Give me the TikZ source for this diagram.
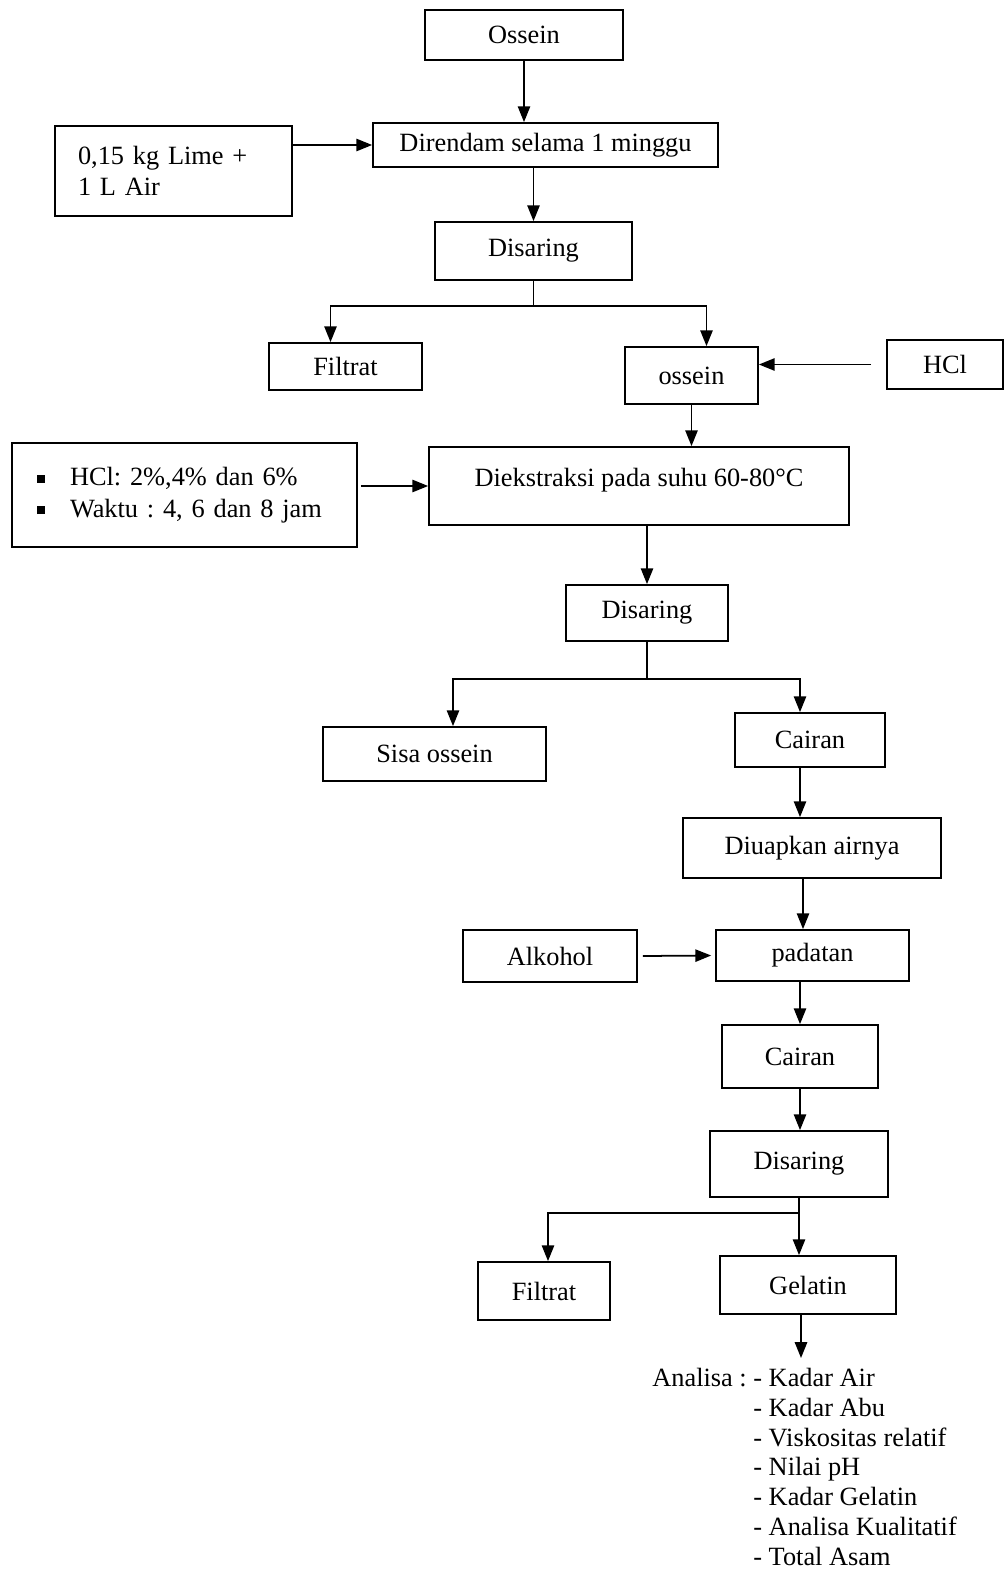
\documentclass[tikz,border=0pt]{standalone}
\usepackage{fontspec}
\setmainfont{Liberation Serif}
\usepackage{tikz}
\usetikzlibrary{positioning,arrows.meta}
\frenchspacing

\newcommand{\sqbullet}{\makebox[0.66cm][l]{\rule[0.25ex]{0.3em}{0.3em}}}

\begin{document}
\begin{tikzpicture}[
    x=0.02cm, y=-0.02cm,
    box/.style={rectangle, draw, line width=1pt, inner sep=0pt,
        font=\fontsize{15}{18}\selectfont, align=center},
    arr/.style={-{Triangle[length=9pt,width=7pt]}, line width=1pt}
]
\useasboundingbox (0,0) rectangle (1007,1571);
\fill[white] (0,0) rectangle (1007,1571);

% boxes
\node[box, minimum width=3.96cm, minimum height=1cm] (ossein1) at (524,35) {Ossein};
\node[box, minimum width=6.9cm, minimum height=0.88cm] (direndam) at (545.5,145) {Direndam selama 1 minggu};
\node[box, minimum width=4.74cm, minimum height=1.8cm, inner xsep=0.46cm,
    text width=3.82cm, align=left] (lime) at (173.5,171) {0,15 kg Lime +\\1 L Air};
\node[box, minimum width=3.94cm, minimum height=1.16cm] (disaring1) at (533.5,251) {Disaring};
\node[box, minimum width=3.06cm, minimum height=0.94cm] (filtrat1) at (345.5,366.5) {Filtrat};
\node[box, minimum width=2.66cm, minimum height=1.14cm] (ossein2) at (691.5,375.5) {ossein};
\node[box, minimum width=2.32cm, minimum height=0.98cm] (hcl) at (945,364.5) {HCl};
\node[box, minimum width=6.9cm, minimum height=2.08cm, inner xsep=0.5cm,
    text width=5.9cm, align=left] (kondisi) at (184.5,495)
    {\sqbullet HCl: 2\%,4\% dan 6\%\\\sqbullet Waktu : 4, 6 dan 8 jam\\[0.7cm]};
\node[box, minimum width=8.4cm, minimum height=1.56cm, text depth=0.34cm] (ekstraksi) at (639,486) {Diekstraksi pada suhu 60-80°C};
\node[box, minimum width=3.24cm, minimum height=1.12cm] (disaring2) at (647,613) {Disaring};
\node[box, minimum width=4.46cm, minimum height=1.08cm] (sisa) at (434.5,754) {Sisa ossein};
\node[box, minimum width=3cm, minimum height=1.08cm] (cairan1) at (810,740) {Cairan};
\node[box, minimum width=5.16cm, minimum height=1.2cm] (diuapkan) at (812,848) {Diuapkan airnya};
\node[box, minimum width=3.48cm, minimum height=1.04cm] (alkohol) at (550,956) {Alkohol};
\node[box, minimum width=3.86cm, minimum height=1.02cm] (padatan) at (812.5,955.5) {padatan};
\node[box, minimum width=3.12cm, minimum height=1.26cm] (cairan2) at (800,1056.5) {Cairan};
\node[box, minimum width=3.56cm, minimum height=1.32cm] (disaring3) at (799,1164) {Disaring};
\node[box, minimum width=2.64cm, minimum height=1.16cm] (filtrat2) at (544,1291) {Filtrat};
\node[box, minimum width=3.52cm, minimum height=1.16cm] (gelatin) at (808,1285) {Gelatin};
\node[anchor=north west, inner sep=0pt, font=\fontsize{15}{17}\selectfont] (analisa) at (652,1365)
    {\begin{tabular}{@{}l@{ }l@{}}
     Analisa : & - Kadar Air\\
     & - Kadar Abu\\
     & - Viskositas relatif\\
     & - Nilai pH\\
     & - Kadar Gelatin\\
     & - Analisa Kualitatif\\
     & - Total Asam
     \end{tabular}};

% connectors
\draw[arr] (ossein1.south) -- (ossein1 |- direndam.north);
\draw[arr] (lime.east |- direndam) -- (direndam.west);
\draw[arr] (disaring1 |- direndam.south) -- (disaring1.north);
\draw[arr] (disaring1.south) -- ++(0,25) -| ([xshift=-0.3cm]filtrat1.north);
\draw[arr] (disaring1.south) -- ++(0,25) -| ([xshift=0.3cm]ossein2.north);
\draw[arr] ([xshift=-0.3cm]hcl.west) -- (hcl.west -| ossein2.east);
\draw[arr] (ossein2.south) -- (ossein2 |- ekstraksi.north);
\draw[arr] ([xshift=0.06cm]kondisi.east |- ekstraksi) -- (ekstraksi.west);
\draw[arr] (disaring2 |- ekstraksi.south) -- (disaring2.north);
\draw[arr] (disaring2.south) -- ++(0,37) -| ([xshift=0.37cm]sisa.north);
\draw[arr] (disaring2.south) -- ++(0,37) -| ([xshift=-0.2cm]cairan1.north);
\draw[arr] ([xshift=-0.2cm]cairan1.south) -- ([xshift=-0.2cm]cairan1.south |- diuapkan.north);
\draw[arr] ([xshift=-0.18cm]diuapkan.south) -- ([xshift=-0.18cm]diuapkan.south |- padatan.north);
\draw[arr] ([xshift=0.1cm]alkohol.east) -- ([xshift=-0.08cm]padatan.west);
\draw[arr] (cairan2 |- padatan.south) -- (cairan2.north);
\draw[arr] (cairan2.south) -- (cairan2 |- disaring3.north);
\draw[arr] (disaring3.south) -- ++(0,15) -| ([xshift=0.08cm]filtrat2.north);
\draw[arr] (disaring3.south) -- ++(0,15) -| (disaring3 |- gelatin.north);
\draw[arr] ([xshift=-0.14cm]gelatin.south) -- ([xshift=-0.14cm,yshift=0.14cm]gelatin.south |- analisa.north);
\end{tikzpicture}
\end{document}
